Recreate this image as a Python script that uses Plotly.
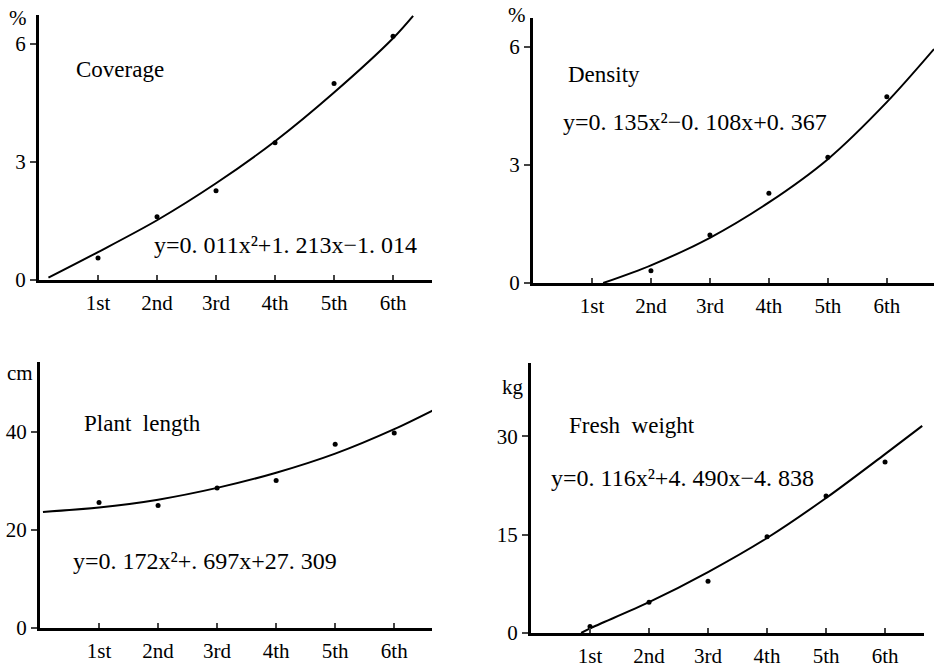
import plotly.graph_objects as go

# ---------------- data ----------------
stages = ["1st", "2nd", "3rd", "4th", "5th", "6th"]
stage_x = [1, 2, 3, 4, 5, 6]

coverage_obs = [0.56, 1.61, 2.27, 3.49, 5.0, 6.2]
coverage_fit_x = [0.16, 1, 2, 3, 4, 5, 6, 6.34]
coverage_fit_y = [0.06, 0.71, 1.52, 2.46, 3.53, 4.77, 6.15, 6.72]

density_obs_x = [2, 3, 4, 5, 6]
density_obs = [0.31, 1.22, 2.28, 3.2, 4.74]
density_fit_x = [1.19, 2, 3, 4, 5, 6, 6.8]
density_fit_y = [0.0, 0.45, 1.15, 2.05, 3.15, 4.6, 5.95]

length_obs = [25.6, 25.0, 28.6, 30.1, 37.5, 39.8]
length_fit_x = [0.05, 1, 2, 3, 4, 5, 6, 6.65]
length_fit_y = [23.7, 24.6, 26.2, 28.6, 31.7, 35.6, 40.6, 44.4]

weight_obs = [1.0, 4.7, 7.9, 14.7, 20.9, 26.1]
weight_fit_x = [0.85, 1, 2, 3, 4, 5, 6, 6.63]
weight_fit_y = [0.0, 0.7, 4.7, 9.3, 14.5, 20.6, 27.3, 31.6]

W, H = 935, 671
FONT = "Liberation Serif, Times New Roman, serif"


def px_x(a, b):
    return [a / W, b / W]


def px_y(top, bottom):
    return [(H - bottom) / H, (H - top) / H]


panels = [
    dict(xd=px_x(39, 432), yd=px_y(15, 280), xr=[0, 6.66], yr=[0, 6.74], yt=[0, 3, 6]),
    dict(xd=px_x(533, 934), yd=px_y(18, 283), xr=[0, 6.8], yr=[0, 6.74], yt=[0, 3, 6]),
    dict(xd=px_x(40, 432), yd=px_y(362, 628), xr=[0, 6.64], yr=[0, 54.3], yt=[0, 20, 40]),
    dict(xd=px_x(531, 924), yd=px_y(363, 633), xr=[0, 6.66], yr=[0, 41.2], yt=[0, 15, 30]),
]

fig = go.Figure()

series = [
    (stage_x, coverage_obs, coverage_fit_x, coverage_fit_y),
    (density_obs_x, density_obs, density_fit_x, density_fit_y),
    (stage_x, length_obs, length_fit_x, length_fit_y),
    (stage_x, weight_obs, weight_fit_x, weight_fit_y),
]

layout = dict(
    width=W, height=H,
    margin=dict(l=0, r=0, t=0, b=0, autoexpand=False),
    paper_bgcolor="white", plot_bgcolor="white",
    showlegend=False,
    font=dict(family=FONT, size=21, color="black"),
)

for i, (p, (ox, oy, fx, fy)) in enumerate(zip(panels, series)):
    n = "" if i == 0 else str(i + 1)
    fig.add_trace(go.Scatter(x=fx, y=fy, mode="lines",
                             line=dict(color="black", width=2, shape="spline", smoothing=0.9),
                             xaxis="x" + n, yaxis="y" + n, hoverinfo="skip"))
    fig.add_trace(go.Scatter(x=ox, y=oy, mode="markers", marker=dict(color="black", size=5),
                             xaxis="x" + n, yaxis="y" + n, cliponaxis=False))
    layout["xaxis" + n] = dict(
        domain=p["xd"], range=p["xr"], anchor="y" + n, automargin=False,
        tickvals=stage_x, ticktext=stages, ticks="inside", ticklen=5, tickwidth=2,
        showline=True, linecolor="black", linewidth=3, showgrid=False, zeroline=False,
        tickfont=dict(family=FONT, size=21), ticklabelstandoff=2, fixedrange=True,
    )
    layout["yaxis" + n] = dict(
        domain=p["yd"], range=p["yr"], anchor="x" + n, automargin=False,
        tickvals=p["yt"], ticks="outside", ticklen=6, tickwidth=2,
        showline=True, linecolor="black", linewidth=3, showgrid=False, zeroline=False,
        tickfont=dict(family=FONT, size=21), ticklabelstandoff=0, fixedrange=True,
    )

fig.update_layout(**layout)


def note(text, x, y, xref, yref, size=22, anchor="left"):
    fig.add_annotation(text=text, x=x, y=y, xref=xref, yref=yref, showarrow=False,
                       xanchor=anchor, yanchor="middle", borderpad=0,
                       font=dict(family=FONT, size=size, color="black"))


# unit labels (paper coordinates)
note("%", 18 / W, 1 - 18 / H, "paper", "paper", size=21, anchor="center")
note("%", 517 / W, 1 - 15 / H, "paper", "paper", size=21, anchor="center")
note("cm", 20 / W, 1 - 373 / H, "paper", "paper", size=21, anchor="center")
note("kg", 513 / W, 1 - 387 / H, "paper", "paper", size=21, anchor="center")

# panel titles and fitted equations
note("Coverage", 0.61, 5.35, "x", "y", size=23)
note("y=0. 011x²+1. 213x−1. 014", 1.93, 0.89, "x", "y", size=24)
note("Density", 0.58, 5.3, "x2", "y2", size=23)
note("y=0. 135x²−0. 108x+0. 367", 0.49, 4.1, "x2", "y2", size=24)
note("Plant  length", 0.73, 41.8, "x3", "y3", size=23)
note("y=0. 172x²+. 697x+27. 309", 0.54, 13.7, "x3", "y3", size=24)
note("Fresh  weight", 0.63, 31.6, "x4", "y4", size=23)
note("y=0. 116x²+4. 490x−4. 838", 0.32, 23.6, "x4", "y4", size=24)

fig.write_html("out.html", config={"displayModeBar": False},
               post_script="document.body.style.margin='0';")
